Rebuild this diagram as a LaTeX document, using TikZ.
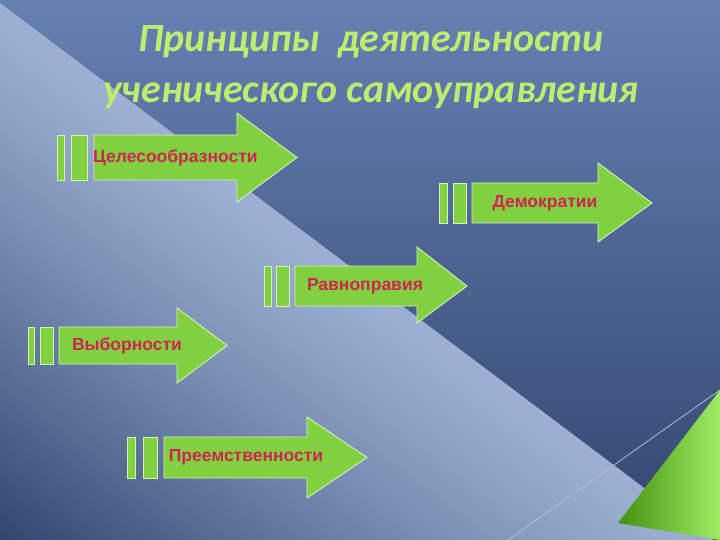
\documentclass[tikz,border=0pt]{standalone}
\usepackage{fontspec}
\setmainfont{Liberation Sans}
\newfontfamily\titlefont{Carlito}
\definecolor{bgtop}{RGB}{102,128,178}
\definecolor{bgbot}{RGB}{50,70,110}
\definecolor{lighthi}{RGB}{156,176,210}
\definecolor{lightlo}{RGB}{44,66,108}
\definecolor{arrowfill}{RGB}{128,208,64}
\definecolor{arrowedge}{RGB}{214,240,190}
\definecolor{labelred}{RGB}{208,36,82}
\definecolor{titlegreen}{RGB}{190,236,112}
\definecolor{linelight}{RGB}{172,190,218}
\definecolor{trileft}{RGB}{66,146,16}
\definecolor{triright}{RGB}{160,236,100}
\tikzset{
  arrowpart/.style={fill=arrowfill, draw=arrowedge, line width=0.9pt, line join=miter},
  arrowlabel/.style={text=labelred, font=\bfseries\fontsize{17.5}{20}\selectfont, inner sep=0pt},
  titletext/.style={text=titlegreen, font=\titlefont\bfseries\itshape\fontsize{40}{51}\selectfont, inner sep=0pt, anchor=base}
}
% #1 bar1 left, #2 bar1 right, #3 bar2 left, #4 bar2 right, #5 body left,
% #6 body top, #7 body bottom, #8 head start, #9 head top
\newcommand\barsbody[9]{%
  \path[arrowpart] (#1,#6) rectangle (#2,#7);
  \path[arrowpart] (#3,#6) rectangle (#4,#7);
  \def\hstart{#8}\def\htop{#9}%
  \def\bleft{#5}\def\btop{#6}\def\bbot{#7}%
}
% #1 head bottom, #2 tip x, #3 name
\newcommand\headpart[3]{%
  \path[arrowpart] (\bleft,\btop) -- (\hstart,\btop) -- (\hstart,\htop)
     -- (#2,{(\btop+\bbot)/2}) coordinate (#3tip) -- (\hstart,#1) -- (\hstart,\bbot) -- (\bleft,\bbot) -- cycle;
}
\begin{document}
\begin{tikzpicture}[x=1pt,y=-1pt]
\useasboundingbox (0,0) rectangle (720,540);
% background
\shade[top color=bgtop, bottom color=bgbot] (0,0) rectangle (720,540);
\begin{scope}
  \clip (0,3) -- (720,545) -- (720,540) -- (0,540) -- cycle;
  \begin{scope}[shift={(0,3)}, rotate=-36.97]
    \foreach \k in {0,...,90} {
      \pgfmathsetmacro\tval{min(\k/88,1)}
      \pgfmathsetmacro\pval{100*(1-\tval^1.2)}
      \fill[lighthi!\pval!lightlo] (-100,{\k*5}) -- (1100,{\k*5}) -- (1100,{\k*5+6}) -- (-100,{\k*5+6}) -- cycle;
    }
  \end{scope}
\end{scope}
\draw[linelight, line width=0.8pt] (508,540) -- (720,390);
\shade[left color=trileft, right color=triright] (618,523) -- (720,390) -- (720,540) -- cycle;
% title
\node[titletext] (title1) at (371,52) {Принципы\ \ деятельности};
\node[titletext] (title2) at (371,103) {ученического самоуправления};
% arrow 1
\barsbody{57}{64}{71}{87}{94}{135}{180}{237}{113}
\headpart{202}{297}{a1}
\node[arrowlabel, anchor=west] (l1) at (93,158) {Целесообразности};
% arrow 2
\barsbody{439}{447}{453}{466}{472}{183}{223}{598}{163}
\headpart{242}{652}{a2}
\node[arrowlabel] (l2) at (545,203) {Демократии};
% arrow 3
\barsbody{264}{271}{276}{289}{295}{266}{306}{417}{247}
\headpart{323}{467}{a3}
\node[arrowlabel] (l3) at (365,286) {Равноправия};
% arrow 4
\barsbody{28}{34}{40}{53}{59}{327}{364}{177}{308}
\headpart{383}{227}{a4}
\node[arrowlabel] (l4) at (127,346) {Выборности};
% arrow 5
\barsbody{127}{135}{143}{157}{164}{437}{478}{307}{417}
\headpart{498}{367}{a5}
\node[arrowlabel] (l5) at (246,457) {Преемственности};
\end{tikzpicture}
\end{document}
